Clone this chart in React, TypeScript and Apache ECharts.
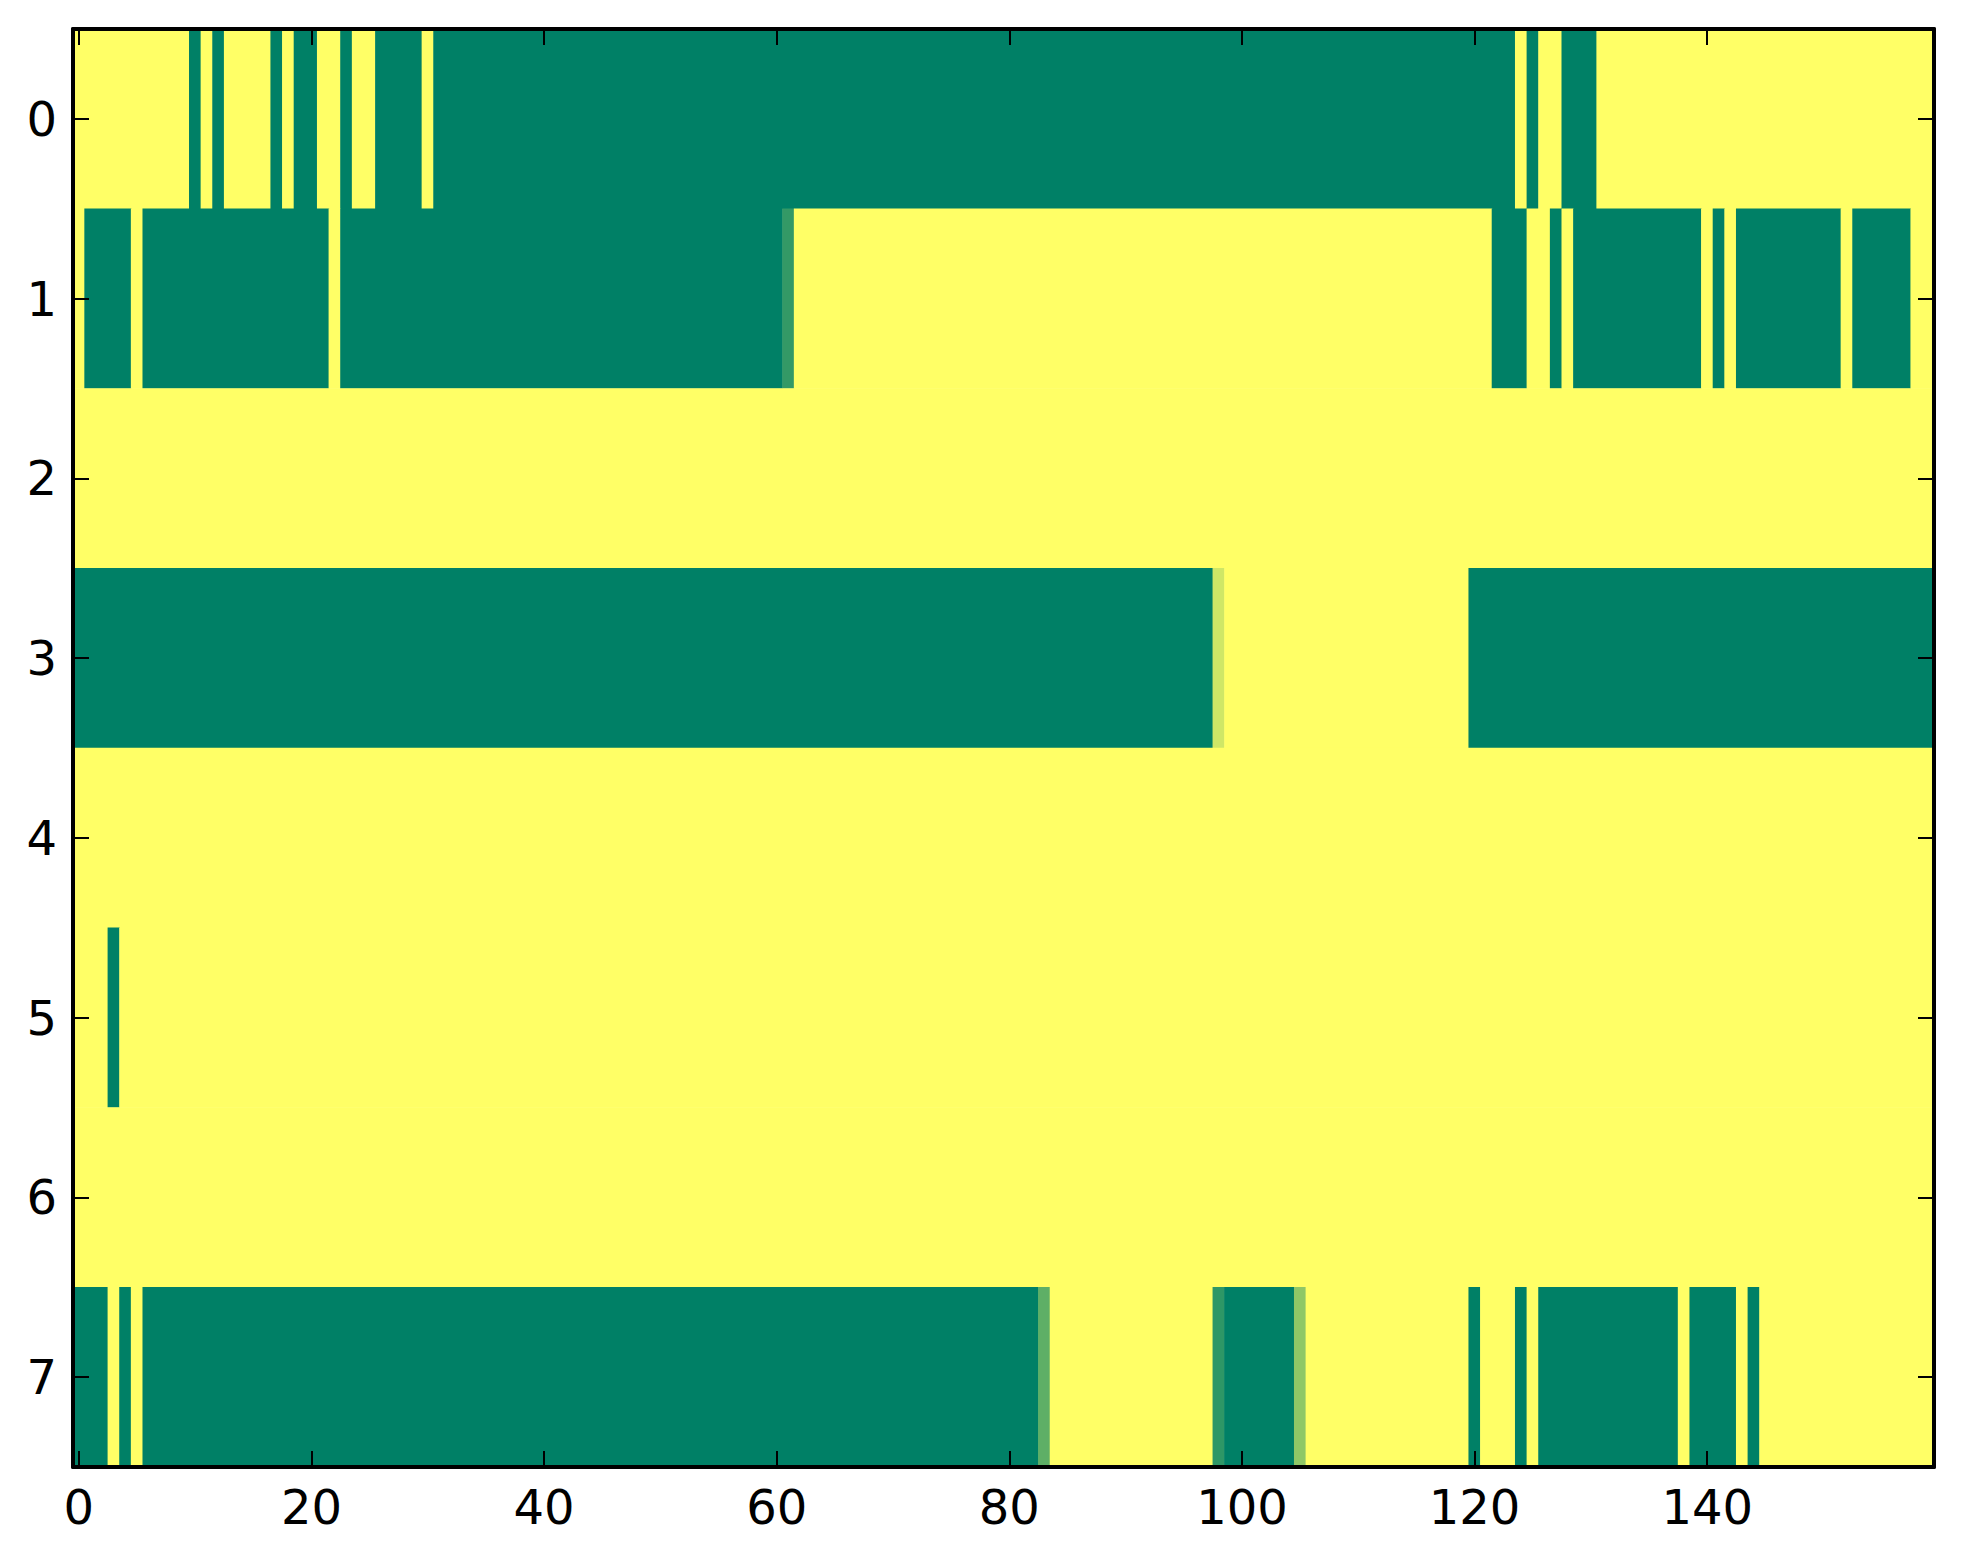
import React, { useEffect, useRef } from "react";
import * as echarts from "echarts";

// Columns 0..159, rows 0..7 (row 0 at top)
const xCategories: string[] = Array.from({ length: 160 }, (_, i) => String(i));
const yCategories: string[] = ["0", "1", "2", "3", "4", "5", "6", "7"];

// Each row given as runs: [firstColumn, lastColumn, value]  (0 = green, 1 = yellow)
const row0: number[][] = [
  [0, 9, 1], [10, 10, 0], [11, 11, 1], [12, 12, 0], [13, 16, 1], [17, 17, 0],
  [18, 18, 1], [19, 20, 0], [21, 22, 1], [23, 23, 0], [24, 25, 1], [26, 29, 0],
  [30, 30, 1], [31, 123, 0], [124, 124, 1], [125, 125, 0], [126, 127, 1],
  [128, 130, 0], [131, 159, 1],
];
const row1: number[][] = [
  [0, 0, 1], [1, 4, 0], [5, 5, 1], [6, 21, 0], [22, 22, 1], [23, 60, 0],
  [61, 61, 0.2], [62, 121, 1], [122, 124, 0], [125, 126, 1], [127, 127, 0],
  [128, 128, 1], [129, 139, 0], [140, 140, 1], [141, 141, 0], [142, 142, 1],
  [143, 151, 0], [152, 152, 1], [153, 157, 0], [158, 159, 1],
];
const row2: number[][] = [[0, 159, 1]];
const row3: number[][] = [[0, 97, 0], [98, 98, 0.81], [99, 119, 1], [120, 159, 0]];
const row4: number[][] = [[0, 159, 1]];
const row5: number[][] = [[0, 2, 1], [3, 3, 0], [4, 159, 1]];
const row6: number[][] = [[0, 159, 1]];
const row7: number[][] = [
  [0, 2, 0], [3, 3, 1], [4, 4, 0], [5, 5, 1], [6, 82, 0], [83, 83, 0.37],
  [84, 97, 1], [98, 98, 0.18], [99, 104, 0], [105, 105, 0.56], [106, 119, 1],
  [120, 120, 0], [121, 123, 1], [124, 124, 0], [125, 125, 1], [126, 137, 0],
  [138, 138, 1], [139, 142, 0], [143, 143, 1], [144, 144, 0], [145, 159, 1],
];
const rows: number[][][] = [row0, row1, row2, row3, row4, row5, row6, row7];

const xTickStep = 20;

export default function App() {
  const ref = useRef<HTMLDivElement>(null);

  useEffect(() => {
    if (!ref.current) return;
    const chart = echarts.init(ref.current, null, { renderer: "svg" });

    // [firstColumn, row, value, lastColumn]
    const data: number[][] = [];
    rows.forEach((runs, r) => {
      runs.forEach(([a, b, v]) => data.push([a, r, v, b]));
    });

    const font = {
      fontFamily: "DejaVu Sans",
      fontSize: 48,
      color: "#000",
    };
    const tickX = (i: number) => i % xTickStep === 0;
    const axisLine = { show: true, lineStyle: { color: "#000", width: 4 } };
    const tick = { show: true, inside: true, length: 16, lineStyle: { color: "#000", width: 2 } };

    const renderItem = (params: any, api: any) => {
      const a = api.value(0);
      const r = api.value(1);
      const b = api.value(3);
      const p0 = api.coord([a, r]);
      const p1 = api.coord([b, r]);
      const size = api.size([1, 1]);
      const w = size[0];
      const h = size[1];
      const x0 = p0[0] - w / 2;
      const x1 = p1[0] + w / 2;
      return {
        type: "rect",
        shape: { x: x0 - 0.3, y: p0[1] - h / 2 - 0.3, width: x1 - x0 + 0.6, height: h + 0.6 },
        style: { fill: api.visual("color") },
      };
    };

    chart.setOption({
      animation: false,
      backgroundColor: "#fff",
      grid: { left: 73, top: 29, width: 1861, height: 1438 },
      visualMap: {
        show: false,
        type: "continuous",
        min: 0,
        max: 1,
        dimension: 2,
        seriesIndex: 0,
        inRange: { color: ["#008066", "#ffff66"] },
      },
      xAxis: [
        {
          type: "category",
          data: xCategories,
          position: "bottom",
          z: 10,
          axisLine,
          axisTick: { ...tick, alignWithLabel: true, interval: (i: number) => tickX(i) },
          axisLabel: { ...font, margin: 16, interval: (i: number) => tickX(i) },
          splitLine: { show: false },
        },
        {
          type: "category",
          data: xCategories,
          position: "top",
          z: 10,
          axisLine,
          axisTick: { ...tick, alignWithLabel: true, interval: (i: number) => tickX(i) },
          axisLabel: { show: false },
          splitLine: { show: false },
        },
      ],
      yAxis: [
        {
          type: "category",
          data: yCategories,
          inverse: true,
          position: "left",
          z: 10,
          axisLine,
          axisTick: { ...tick, alignWithLabel: true },
          axisLabel: { ...font, margin: 16 },
          splitLine: { show: false },
        },
        {
          type: "category",
          data: yCategories,
          inverse: true,
          position: "right",
          z: 10,
          axisLine,
          axisTick: { ...tick, alignWithLabel: true },
          axisLabel: { show: false },
          splitLine: { show: false },
        },
      ],
      series: [
        {
          type: "custom",
          xAxisIndex: 0,
          yAxisIndex: 0,
          renderItem,
          clip: true,
          encode: { x: 0, y: 1 },
          data,
          emphasis: { disabled: true },
        },
      ],
    });

    return () => chart.dispose();
  }, []);

  return (
    <div
      ref={ref}
      style={{ position: "absolute", left: 0, top: 0, width: 1963, height: 1564, background: "#fff" }}
    />
  );
}
